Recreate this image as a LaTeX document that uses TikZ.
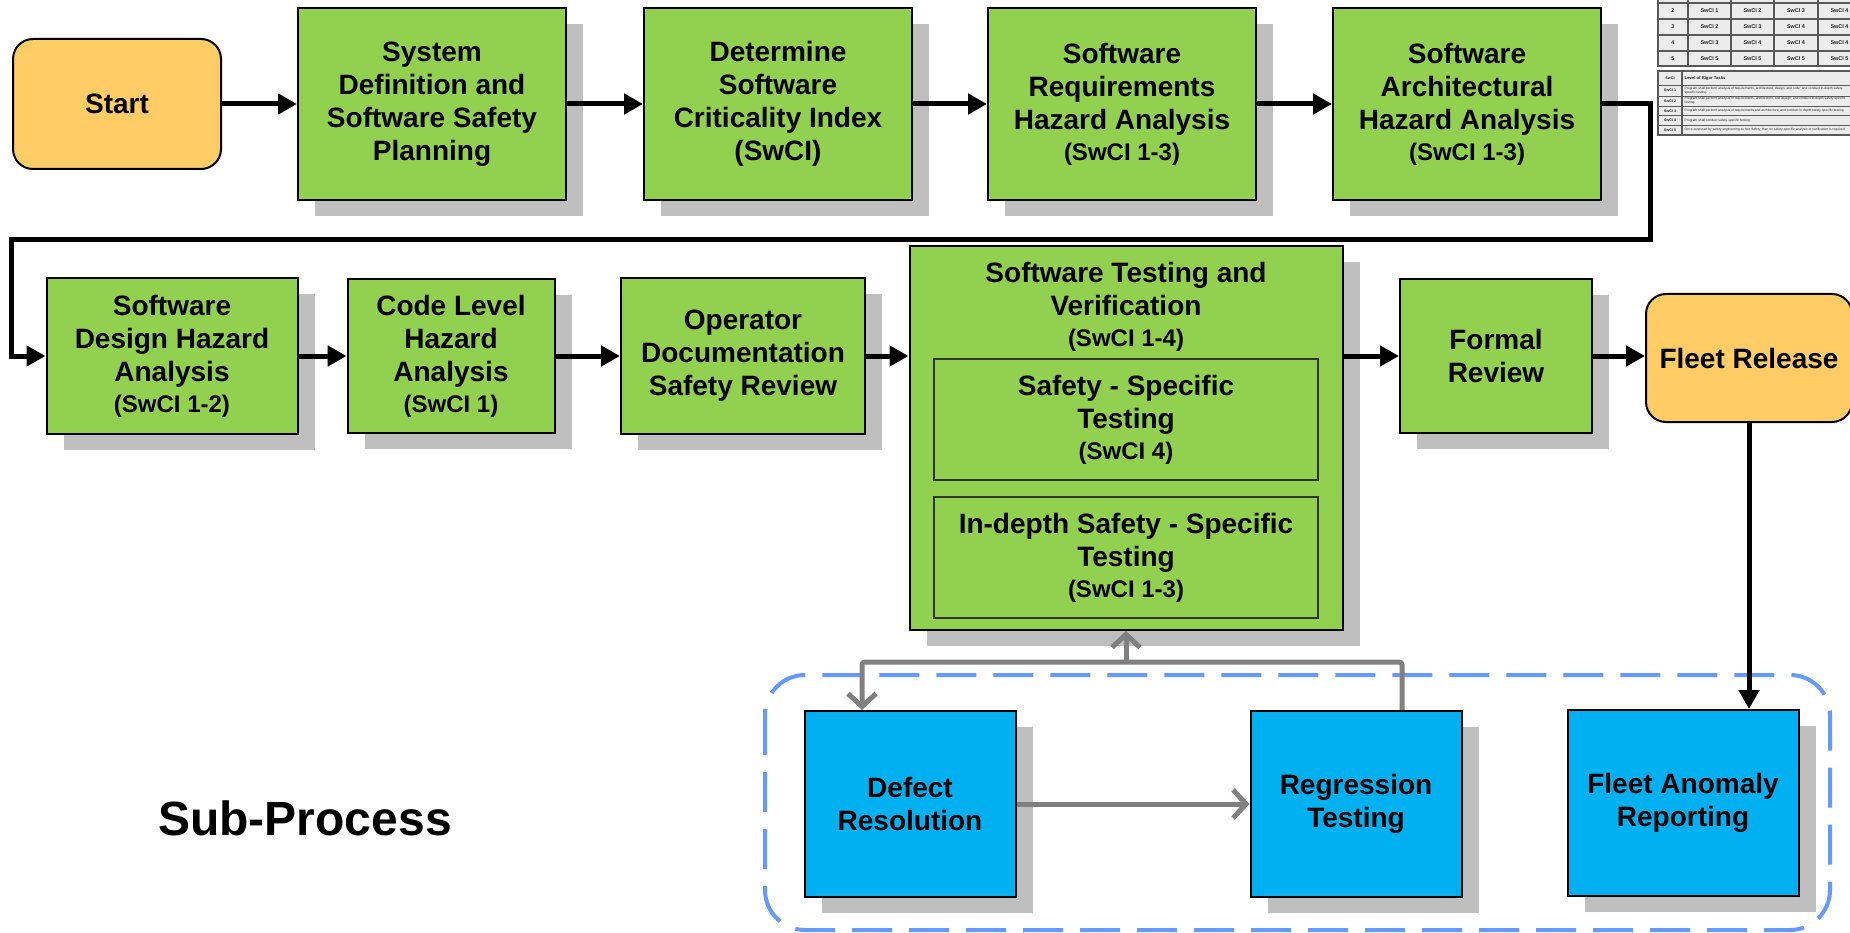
\documentclass[tikz,border=0pt]{standalone}
\usepackage{fontspec}
\setmainfont{Liberation Sans}
\usepackage{tikz}
\usetikzlibrary{arrows.meta, positioning, shadows, calc}

\definecolor{stepgreen}{RGB}{146, 208, 80}
\definecolor{termorange}{RGB}{255, 204, 102}
\definecolor{subblue}{RGB}{0, 176, 240}
\definecolor{shadowgray}{RGB}{191, 191, 191}
\definecolor{dashblue}{RGB}{102, 153, 255}
\definecolor{loopgray}{RGB}{128, 128, 128}
\definecolor{cellgray}{RGB}{236, 236, 236}

\newcommand{\critnote}[1]{{\fontsize{24}{28}\selectfont #1}}

\begin{document}
\begin{tikzpicture}[x=1pt, y=-1pt,
  boxshadow/.style={drop shadow={shadow xshift=17pt, shadow yshift=-16pt, fill=shadowgray, opacity=1}},
  stepbox/.style={draw=black, line width=2pt, fill=stepgreen, boxshadow, inner sep=0pt, align=center, font=\fontsize{28}{33}\selectfont\bfseries},
  termbox/.style={draw=black, line width=2pt, fill=termorange, rounded corners=20pt, inner sep=0pt, align=center, font=\fontsize{28}{33}\selectfont\bfseries},
  innerbox/.style={draw=black!80, line width=1.2pt, fill=stepgreen, inner sep=0pt, align=center, font=\fontsize{28}{33}\selectfont\bfseries},
  subbox/.style={draw=black, line width=2pt, fill=subblue, boxshadow, inner sep=0pt, align=center, font=\fontsize{28}{33}\selectfont\bfseries},
  flow/.style={draw=black, line width=5pt, -{Triangle[length=19pt, width=20pt]}},
  backflow/.style={draw=loopgray, line width=5pt, rounded corners=3pt, -{Straight Barb[length=13pt, width=28pt]}},
  cell/.style={inner sep=0pt, text=black!85, font=\fontsize{5.5}{6}\selectfont\bfseries},
  rigor/.style={inner sep=0pt, anchor=west, align=left, text=black!85, font=\fontsize{3.3}{3.9}\selectfont},
  tablerule/.style={draw=black!65, line width=1.2pt}
]
  \useasboundingbox (0,0) rectangle (1850,933);
  \clip (0,0) rectangle (1850,933);

  % Criticality matrix (cut off at the page edge)
  \fill[cellgray] (1658,0) rectangle (1861,66);
  \foreach \y in {3,19,35,51}
    \draw[tablerule] (1658,\y) -- (1861,\y);
  \foreach \x in {1688,1731,1774,1818}
    \draw[tablerule] (\x,0) -- (\x,66);
  \draw[tablerule, line width=1.8pt] (1658,0) -- (1658,66) -- (1861,66);
  \foreach \n/\a/\b/\c/\d [count=\i] in {2/1/2/3/4, 3/2/3/4/4, 4/3/4/4/4, 5/5/5/5/5} {
    \node[cell] (m\i-0) at (1673,-5+16*\i) {\n};
    \node[cell] (m\i-1) at (1709.5,-5+16*\i) {SwCI \a};
    \node[cell] (m\i-2) at (1752.5,-5+16*\i) {SwCI \b};
    \node[cell] (m\i-3) at (1796,-5+16*\i) {SwCI \c};
    \node[cell] (m\i-4) at (1839.5,-5+16*\i) {SwCI \d};
  }

  % Level of rigor table
  \fill[cellgray] (1658,71) rectangle (1861,135);
  \foreach \y in {85,96,106,115.5,125}
    \draw[tablerule, line width=0.8pt] (1658,\y) -- (1861,\y);
  \draw[tablerule] (1682,71) -- (1682,135);
  \draw[tablerule, line width=1.8pt] (1861,71) -- (1658,71) -- (1658,135) -- (1861,135);
  \node[cell, font=\fontsize{3.7}{4}\selectfont\bfseries] (rigorhead) at (1670,78) {SwCI};
  \node[rigor, font=\fontsize{4.2}{5}\selectfont\bfseries] (rigortitle) at (1684.5,78) {Level of Rigor Tasks};
  \node[cell, font=\fontsize{3.7}{4}\selectfont\bfseries] (r1) at (1670,90.5) {SwCI 1};
  \node[cell, font=\fontsize{3.7}{4}\selectfont\bfseries] (r2) at (1670,101) {SwCI 2};
  \node[cell, font=\fontsize{3.7}{4}\selectfont\bfseries] (r3) at (1670,110.8) {SwCI 3};
  \node[cell, font=\fontsize{3.7}{4}\selectfont\bfseries] (r4) at (1670,120.3) {SwCI 4};
  \node[cell, font=\fontsize{3.7}{4}\selectfont\bfseries] (r5) at (1670,130) {SwCI 5};
  \node[rigor] (t1) at (1684.5,90.5) {Program shall perform analysis of requirements, architecture, design, and code; and conduct in-depth safety-\\specific testing.};
  \node[rigor] (t2) at (1684.5,101) {Program shall perform analysis of requirements, architecture, and design; and conduct in-depth safety-specific\\testing.};
  \node[rigor] (t3) at (1684.5,110.8) {Program shall perform analysis of requirements and architecture; and conduct in-depth safety-specific testing.};
  \node[rigor] (t4) at (1684.5,120.3) {Program shall conduct safety-specific testing.};
  \node[rigor] (t5) at (1684.5,130) {Once assessed by safety engineering as Not Safety, then no safety-specific analysis or verification is required.};

  % First row
  \node[termbox, minimum width=208pt, minimum height=130pt] (start) at (117,104) {Start};
  \node[stepbox, minimum width=268pt, minimum height=192pt] (sysdef) at (432,104) {System\\Definition and\\Software Safety\\Planning};
  \node[stepbox, minimum width=268pt, minimum height=192pt] (swci) at (778,104) {Determine\\Software\\Criticality Index\\(SwCI)};
  \node[stepbox, minimum width=268pt, minimum height=192pt] (swreq) at (1122,104) {Software\\Requirements\\Hazard Analysis\\[-2pt]\critnote{(SwCI 1-3)}};
  \node[stepbox, minimum width=268pt, minimum height=192pt] (swarch) at (1467,104) {Software\\Architectural\\Hazard Analysis\\[-2pt]\critnote{(SwCI 1-3)}};

  % Second row
  \node[stepbox, minimum width=251pt, minimum height=155pt] (design) at (172,356) {Software\\Design Hazard\\Analysis\\[-2pt]\critnote{(SwCI 1-2)}};
  \node[stepbox, minimum width=207pt, minimum height=154pt] (code) at (451,356) {Code Level\\Hazard\\Analysis\\[-2pt]\critnote{(SwCI 1)}};
  \node[stepbox, minimum width=244pt, minimum height=155pt] (operator) at (743,356) {Operator\\Documentation\\Safety Review};
  \node[stepbox, minimum width=433pt, minimum height=384pt] (testing) at (1126,438) {};
  \node[align=center, font=\fontsize{28}{33}\selectfont\bfseries] (testtitle) at (1126,307) {Software Testing and\\Verification\\[-2pt]\critnote{(SwCI 1-4)}};
  \node[innerbox, minimum width=384pt, minimum height=121pt] (specific) at (1126,419.5) {Safety - Specific\\Testing\\[-2pt]\critnote{(SwCI 4)}};
  \node[innerbox, minimum width=384pt, minimum height=121pt] (indepth) at (1126,557.5) {In-depth Safety - Specific\\Testing\\[-2pt]\critnote{(SwCI 1-3)}};
  \node[stepbox, minimum width=192pt, minimum height=154pt] (formal) at (1496,356) {Formal\\Review};
  \node[termbox, minimum width=206pt, minimum height=128pt] (release) at (1749,358) {Fleet Release};

  % Sub-process
  \draw[dashblue, line width=4pt, dash pattern=on 40pt off 17pt, rounded corners=40pt] (765,675) rectangle (1830,930);
  \node[subbox, minimum width=211pt, minimum height=186pt] (defect) at (910,804) {Defect\\Resolution};
  \node[subbox, minimum width=211pt, minimum height=186pt] (regression) at (1356,804) {Regression\\Testing};
  \node[subbox, minimum width=231pt, minimum height=186pt] (anomaly) at (1683,803) {Fleet Anomaly\\Reporting};
  \node[font=\fontsize{48}{56}\selectfont\bfseries] (subproc) at (305,818) {Sub-Process};

  % Main flow
  \draw[flow] (start) -- (sysdef);
  \draw[flow] (sysdef) -- (swci);
  \draw[flow] (swci) -- (swreq);
  \draw[flow] (swreq) -- (swarch);
  \coordinate (wrapR) at (1650,240);
  \coordinate (wrapL) at (11,240);
  \draw[flow] (swarch.east) -| (wrapR) -- (wrapL) |- (design.west);
  \draw[flow] (design) -- (code);
  \draw[flow] (code) -- (operator);
  \draw[flow] (operator) -- (operator -| testing.west);
  \draw[flow] (formal -| testing.east) -- (formal);
  \draw[flow] (formal) -- (formal -| release.west);
  \draw[flow] (release) -- (release |- anomaly.north);

  % Defect loop
  \coordinate (loopR) at (1402,662);
  \coordinate (loopL) at (862,662);
  \coordinate (loopM) at (1126,662);
  \draw[backflow] (defect) -- (regression);
  \draw[backflow] (regression.north -| loopR) -- (loopR) -- (loopL) -- (loopL |- defect.north);
  \draw[backflow] (loopM) -- (testing.south);
\end{tikzpicture}
\end{document}
